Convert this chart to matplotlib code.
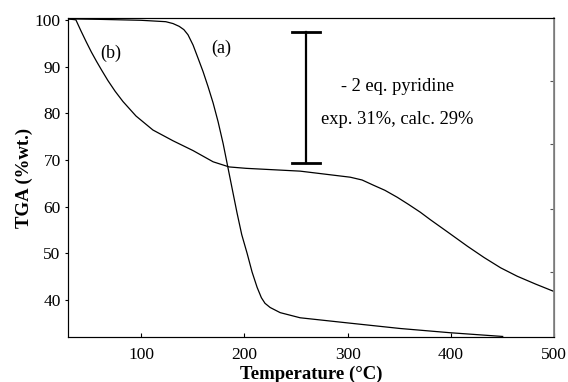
import numpy as np
import matplotlib.pyplot as plt

plt.rcParams['font.family'] = ['Liberation Serif', 'DejaVu Serif']

# curve (a)
temp_a = [29, 60, 100, 124, 131, 137, 141.5, 145.5, 150.4, 155.2, 160.1, 164.9, 169.8,
          174.6, 179.5, 184.3, 189, 193, 197.5, 202.7, 207.5, 212.4, 216.5, 220,
          225, 234.7, 254, 300, 351, 399, 450]
tga_a = [100.2, 100.1, 99.9, 99.6, 99.2, 98.6, 97.9, 96.8, 94.6, 91.8, 88.9, 85.7, 82.2,
         78.2, 73.5, 68.2, 63.0, 58.6, 54.0, 50.0, 46.0, 42.7, 40.5, 39.3,
         38.4, 37.3, 36.2, 35.1, 33.9, 33.0, 32.2]

# curve (b)
temp_b = [29, 37, 42, 47, 52, 57, 62, 68, 75, 82.6, 95.2, 111.6, 131, 150.4, 169.8,
          185.3, 201.7, 254, 302.5, 314, 324.8, 336, 348, 358.7, 370.3, 380, 396.5,
          416, 432, 448, 464, 482, 500]
tga_b = [100.2, 100.0, 97.6, 95.3, 93.1, 91.1, 89.2, 87.0, 84.7, 82.5, 79.4, 76.4, 74.1,
         72.0, 69.6, 68.5, 68.2, 67.6, 66.3, 65.7, 64.6, 63.5, 62.0, 60.5, 58.8, 57.2,
         54.6, 51.5, 49.1, 46.9, 45.1, 43.4, 41.8]

# mass loss bar
bar_x = 260
bar_lo, bar_hi = 69.4, 97.3

xticks = [100, 200, 300, 400, 500]
yticks = [40, 50, 60, 70, 80, 90, 100]
right_ticks = [46.0, 59.5, 73.4, 86.9]

fig = plt.figure(figsize=(5.68, 3.82), dpi=100)
ax = fig.add_axes([0.119, 0.118, 0.857, 0.835])

ax.plot(temp_a, tga_a, color='black', lw=0.9)
ax.plot(temp_b, tga_b, color='black', lw=0.9)

ax.plot([bar_x, bar_x], [bar_lo, bar_hi], color='black', lw=1.6)
for yy in (bar_lo, bar_hi):
    ax.plot([bar_x - 13.5, bar_x + 13.5], [yy, yy], color='black', lw=2)

ax.text(348, 85.8, '- 2 eq. pyridine', ha='center', va='center', fontsize=13.3)
ax.text(348, 78.7, 'exp. 31%, calc. 29%', ha='center', va='center', fontsize=13.3)
ax.text(71, 92.8, '(b)', ha='center', va='center', fontsize=13)
ax.text(177.5, 93.8, '(a)', ha='center', va='center', fontsize=13)

ax.set_xlim(29, 500)
ax.set_ylim(32.1, 100.4)
ax.set_xticks(xticks)
ax.set_yticks(yticks)
ax.tick_params(axis='x', direction='in', length=3, labelsize=12.5, pad=7)
ax.tick_params(axis='y', direction='out', length=2, labelsize=12.5, pad=3)

ax2 = ax.twinx()
ax2.set_ylim(ax.get_ylim())
ax2.set_yticks(right_ticks)
ax2.tick_params(axis='y', direction='in', length=3, labelright=False, color='#555555')

for s in ['left', 'bottom', 'top']:
    ax.spines[s].set_color('#333333')
ax2.spines['right'].set_color('#888888')
ax2.spines['right'].set_linewidth(1.3)

ax.set_xlabel('Temperature (\u00b0C)', fontsize=13.5, fontweight='bold', labelpad=2)
ax.set_ylabel('TGA (%wt.)', fontsize=13.5, fontweight='bold', labelpad=1)

fig.savefig('out.png', dpi=100)
